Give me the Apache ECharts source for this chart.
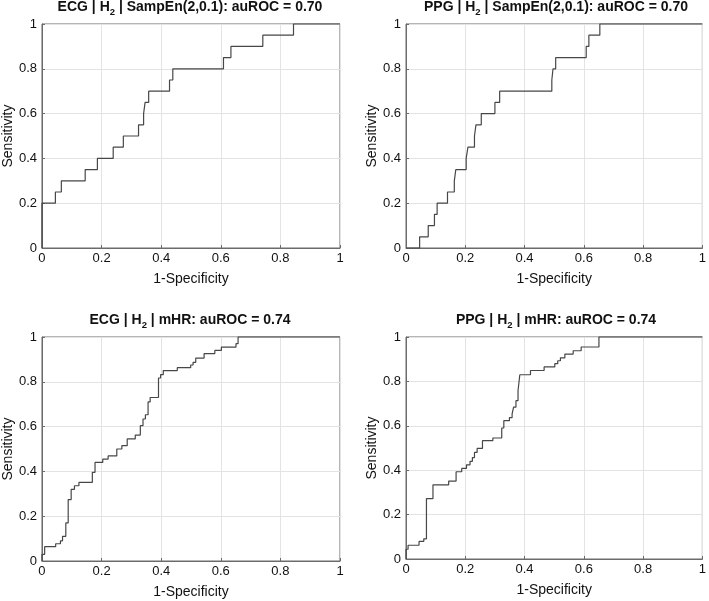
<!DOCTYPE html>
<html>
<head>
<meta charset="utf-8">
<script src="https://cdn.jsdelivr.net/npm/echarts@6/dist/echarts.min.js"></script>
<style>html,body{margin:0;padding:0;background:#fff}#c{width:709px;height:601px}</style>
</head>
<body>
<div id="c"></div>
<script>
// ROC points [1-Specificity, Sensitivity]
const ecgSampEnRoc = [[0,0],[0,0.2],[0.045,0.25],[0.065,0.3],[0.145,0.35],[0.186,0.4],[0.239,0.45],[0.273,0.5],[0.324,0.55],[0.341,0.6],[0.346,0.65],[0.358,0.7],[0.428,0.75],[0.439,0.8],[0.609,0.85],[0.634,0.9],[0.741,0.95],[0.844,1],[1,1]];
const ppgSampEnRoc = [[0,0],[0.046,0.05],[0.075,0.1],[0.096,0.15],[0.105,0.2],[0.14,0.25],[0.163,0.3],[0.168,0.35],[0.203,0.4],[0.209,0.45],[0.231,0.5],[0.236,0.55],[0.254,0.6],[0.3,0.65],[0.316,0.7],[0.492,0.75],[0.496,0.8],[0.505,0.85],[0.608,0.9],[0.617,0.95],[0.654,1],[1,1]];
const ecgMhrRoc = [[0,0],[0,0.03],[0.009,0.064],[0.046,0.077],[0.062,0.09],[0.069,0.11],[0.08,0.17],[0.088,0.274],[0.098,0.32],[0.109,0.336],[0.124,0.351],[0.169,0.396],[0.178,0.44],[0.204,0.455],[0.222,0.469],[0.251,0.5],[0.268,0.515],[0.286,0.545],[0.313,0.562],[0.33,0.604],[0.339,0.634],[0.347,0.653],[0.356,0.71],[0.363,0.73],[0.391,0.817],[0.398,0.832],[0.407,0.85],[0.454,0.863],[0.499,0.875],[0.507,0.887],[0.516,0.906],[0.544,0.926],[0.58,0.94],[0.602,0.955],[0.651,0.97],[0.658,1],[1,1]];
const ppgMhrRoc = [[0,0],[0,0.044],[0.007,0.062],[0.044,0.079],[0.06,0.091],[0.069,0.272],[0.091,0.334],[0.144,0.351],[0.169,0.393],[0.188,0.408],[0.204,0.424],[0.216,0.44],[0.224,0.457],[0.231,0.48],[0.24,0.498],[0.258,0.533],[0.293,0.545],[0.323,0.59],[0.33,0.623],[0.349,0.637],[0.358,0.654],[0.363,0.684],[0.371,0.713],[0.378,0.759],[0.384,0.83],[0.42,0.849],[0.466,0.865],[0.502,0.88],[0.512,0.893],[0.521,0.906],[0.536,0.923],[0.564,0.938],[0.591,0.955],[0.651,1],[1,1]];

const panelTitles = [
  ['ECG | H', '2', ' | SampEn(2,0.1): auROC = 0.70'],
  ['PPG | H', '2', ' | SampEn(2,0.1): auROC = 0.70'],
  ['ECG | H', '2', ' | mHR: auROC = 0.74'],
  ['PPG | H', '2', ' | mHR: auROC = 0.74']
];
const xAxisName = '1-Specificity';
const yAxisName = 'Sensitivity';
const curves = [ecgSampEnRoc, ppgSampEnRoc, ecgMhrRoc, ppgMhrRoc];

const grids = [
  {left: 40, top: 24, width: 300, height: 224},
  {left: 406, top: 24, width: 300, height: 224},
  {left: 40, top: 337, width: 300, height: 224},
  {left: 406, top: 337, width: 300, height: 222}
];
const FONT = '"Liberation Sans", Arial, Helvetica, sans-serif';
const frameColor = '#6b6b6b';

const option = {
  animation: false,
  backgroundColor: '#fff',
  title: grids.map((g, i) => ({
    left: g.left + g.width / 2,
    top: g.top - 27,
    textAlign: 'center',
    padding: 0,
    text: '{a|' + panelTitles[i][0] + '}{s|' + panelTitles[i][1] + '}{a|' + panelTitles[i][2] + '}',
    textStyle: {
      rich: {
        a: {fontFamily: FONT, fontSize: 14, fontWeight: 'bold', color: '#111', lineHeight: 20},
        s: {fontFamily: FONT, fontSize: 9.5, fontWeight: 'bold', color: '#111', lineHeight: 10, verticalAlign: 'bottom'}
      }
    }
  })),
  grid: grids.map(g => Object.assign({show: true, borderColor: frameColor, borderWidth: 1, backgroundColor: 'transparent'}, g)),
  xAxis: grids.map((g, i) => ({
    type: 'value', gridIndex: i, min: 0, max: 1, interval: 0.2,
    name: xAxisName, nameLocation: 'middle', nameGap: 24,
    nameTextStyle: {fontFamily: FONT, fontSize: 14, color: '#111'},
    axisLine: {show: true, onZero: false, lineStyle: {color: frameColor, width: 1}},
    axisTick: {show: true, inside: true, length: 3, lineStyle: {color: frameColor}},
    axisLabel: {fontFamily: FONT, fontSize: 13, color: '#111', margin: 4},
    splitLine: {show: true, lineStyle: {color: '#e3e3e3', width: 1}}
  })),
  yAxis: grids.map((g, i) => ({
    type: 'value', gridIndex: i, min: 0, max: 1, interval: 0.2,
    name: yAxisName, nameLocation: 'middle', nameGap: 25,
    nameTextStyle: {fontFamily: FONT, fontSize: 14, color: '#111'},
    axisLine: {show: true, onZero: false, lineStyle: {color: frameColor, width: 1}},
    axisTick: {show: true, inside: true, length: 3, lineStyle: {color: frameColor}},
    axisLabel: {fontFamily: FONT, fontSize: 13, color: '#111', margin: 5},
    splitLine: {show: true, lineStyle: {color: '#e3e3e3', width: 1}}
  })),
  series: curves.map((c, i) => ({
    type: 'line', xAxisIndex: i, yAxisIndex: i,
    data: c, step: 'end', showSymbol: false, symbol: 'none',
    lineStyle: {color: '#474747', width: 1.2},
    clip: false
  }))
};
const chart = echarts.init(document.getElementById('c'), null, {renderer: 'canvas'});
chart.setOption(option);
</script>
</body>
</html>
